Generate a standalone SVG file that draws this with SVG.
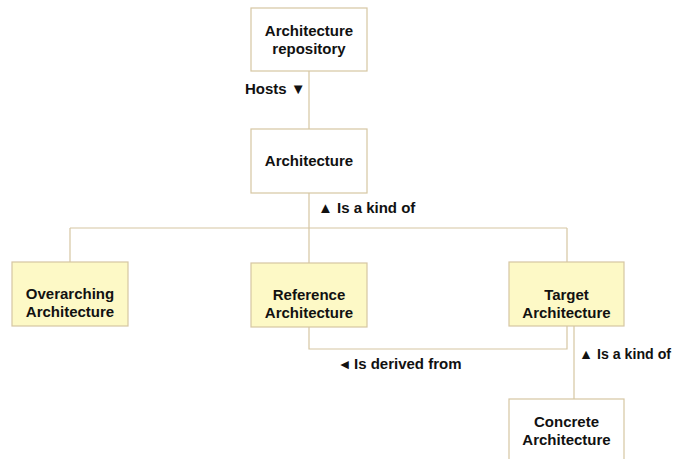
<svg xmlns="http://www.w3.org/2000/svg" width="674" height="459" viewBox="0 0 674 459">
<style>
.box{stroke:#d6c6a2;stroke-width:1.2}
.w{fill:#ffffff}
.y{fill:#fdf9c6}
.t{font-family:"Liberation Sans",Arial,sans-serif;font-weight:bold;font-size:15px;fill:#111;text-anchor:middle}
.l{font-family:"Liberation Sans",Arial,sans-serif;font-weight:bold;font-size:15px;fill:#111}
.c{fill:none;stroke:#d6c6a2;stroke-width:1.2}
</style>
<rect width="674" height="459" fill="#ffffff"/>
<g id="connectors">
<path class="c" d="M309 71 V129"/>
<path class="c" d="M309 193 V228 M70 228 H567 M70 228 V262 M309 228 V263 M567 228 V262"/>
<path class="c" d="M309 327 V349 H567 V326"/>
<path class="c" d="M574 326 V399"/>
</g>
<g id="labels">
<text class="l" x="245" y="94">Hosts ▼</text>
<text class="l" x="318" y="213">▲ Is a kind of</text>
<text class="l" x="341" y="369">◂ <tspan x="354">Is derived from</tspan></text>
<text class="l" x="579" y="359" style="font-size:14.2px">▲ Is a kind of</text>
</g>
<g id="repository">
<rect class="box w" x="251" y="8" width="116" height="63"/>
<text class="t" x="309" y="36">Architecture</text>
<text class="t" x="309" y="54">repository</text>
</g>
<g id="architecture">
<rect class="box w" x="251" y="129" width="116" height="64"/>
<text class="t" x="309" y="166">Architecture</text>
</g>
<g id="overarching">
<rect class="box y" x="12" y="262" width="116" height="64"/>
<text class="t" x="70" y="299">Overarching</text>
<text class="t" x="70" y="317">Architecture</text>
</g>
<g id="reference">
<rect class="box y" x="251" y="263" width="116" height="64"/>
<text class="t" x="309" y="300">Reference</text>
<text class="t" x="309" y="318">Architecture</text>
</g>
<g id="target">
<rect class="box y" x="509" y="262" width="115" height="64"/>
<text class="t" x="566.5" y="300">Target</text>
<text class="t" x="566.5" y="318">Architecture</text>
</g>
<g id="concrete">
<rect class="box w" x="509" y="399" width="115" height="70"/>
<text class="t" x="566.5" y="427">Concrete</text>
<text class="t" x="566.5" y="445">Architecture</text>
</g>
</svg>
